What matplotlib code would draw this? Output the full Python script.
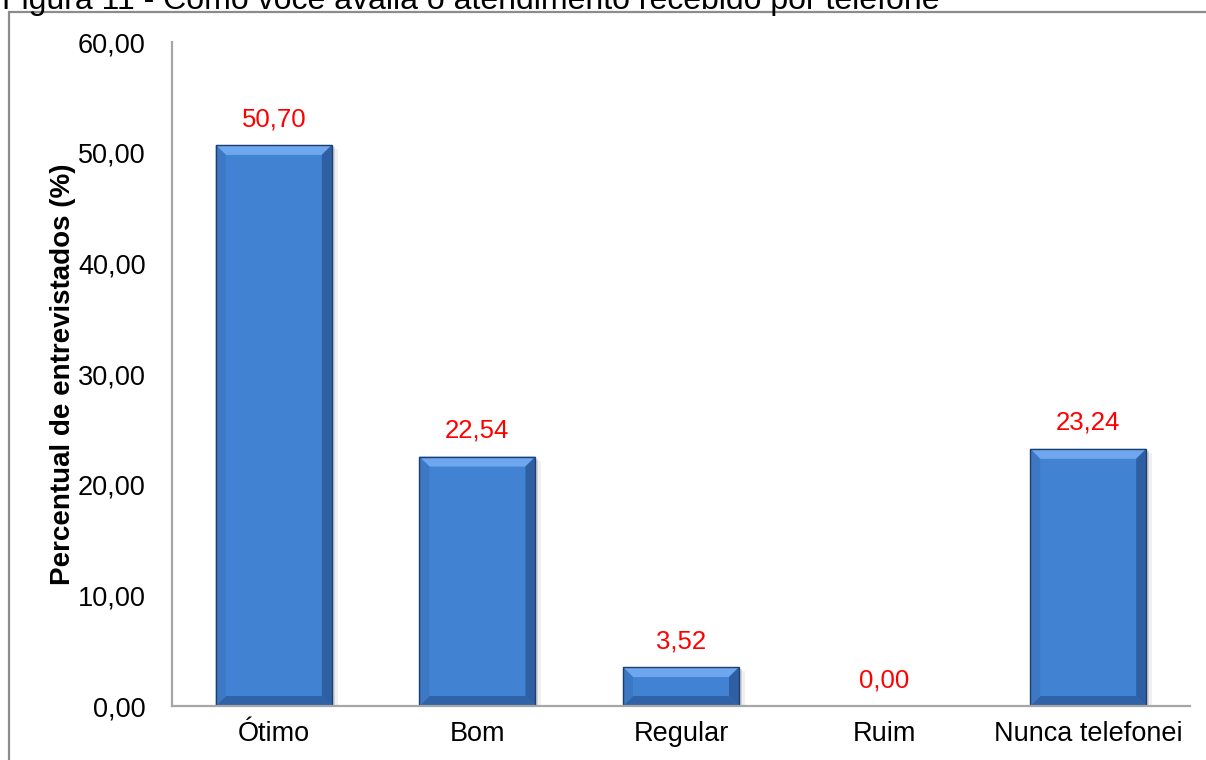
import matplotlib
matplotlib.use("Agg")
import matplotlib.pyplot as plt
from matplotlib.patches import Polygon, Rectangle
from matplotlib.ticker import FuncFormatter

plt.rcParams['font.family'] = ['Liberation Sans', 'DejaVu Sans']

categories = ["Ótimo", "Bom", "Regular", "Ruim", "Nunca telefonei"]
values = [50.70, 22.54, 3.52, 0.00, 23.24]
yticks = [0, 10, 20, 30, 40, 50, 60]
title = "Figura 11 - Como você avalia o atendimento recebido por telefone"
ylabel = "Percentual de entrevistados (%)"

W, H = 1206, 760
fig = plt.figure(figsize=(W / 100, H / 100), dpi=100)
ax = fig.add_axes([172 / W, 54 / H, 1018 / W, 664 / H])

x = list(range(len(categories)))
bars = ax.bar(x, values, width=0.57, color="#4282D2", zorder=2)

ax.set_xlim(-0.5, len(categories) - 0.5)
ax.set_ylim(0, 60)
ax.set_yticks(yticks)
ax.yaxis.set_major_formatter(FuncFormatter(lambda v, p: f"{v:.2f}".replace(".", ",")))
ax.set_xticks(x)
ax.set_xticklabels(categories)
ax.tick_params(axis="y", length=0, pad=19, labelsize=19.5)
ax.tick_params(axis="x", length=0, pad=11, labelsize=19.5)
for s in ("top", "right"):
    ax.spines[s].set_visible(False)
for s in ("left", "bottom"):
    ax.spines[s].set_color("#A6A6A6")
    ax.spines[s].set_linewidth(1.6)
ax.set_ylabel(ylabel, fontsize=20, fontweight="bold", labelpad=1)

# bevelled look for each bar, derived from the bar geometry
px_x = 1018 / 5.0  # pixels per category unit
px_y = 664 / 60.0
bx = 10 / px_x
by = 10 / px_y
for rect, v in zip(bars, values):
    if v <= 0:
        continue
    x0, y0 = rect.get_x(), rect.get_y()
    w, h = rect.get_width(), rect.get_height()
    x1, y1 = x0 + w, y0 + h
    byy = min(by, h / 2)
    # soft shadow
    ax.add_patch(Rectangle((x0 + 3 / px_x, y0), w, h - 2 / px_y, color="#000000",
                           alpha=0.12, zorder=1.5, lw=0))
    ax.add_patch(Rectangle((x0 + 6 / px_x, y0), w, h - 4 / px_y, color="#000000",
                           alpha=0.06, zorder=1.4, lw=0))
    faces = [
        ([(x0, y1), (x1, y1), (x1 - bx, y1 - byy), (x0 + bx, y1 - byy)], "#6EA7EE"),
        ([(x0, y0), (x1, y0), (x1 - bx, y0 + byy), (x0 + bx, y0 + byy)], "#2F62A6"),
        ([(x0, y0), (x0, y1), (x0 + bx, y1 - byy), (x0 + bx, y0 + byy)], "#3C78C4"),
        ([(x1, y0), (x1, y1), (x1 - bx, y1 - byy), (x1 - bx, y0 + byy)], "#2D5FA2"),
    ]
    for pts, c in faces:
        ax.add_patch(Polygon(pts, closed=True, color=c, lw=0, zorder=2.1))
    ax.add_patch(Rectangle((x0, y0), w, h, fill=False, ec="#1E3E6E", lw=1.0, zorder=2.2))

for xi, v in zip(x, values):
    ax.annotate(f"{v:.2f}".replace(".", ","), (xi, v), xytext=(0, 10),
                textcoords="offset points", ha="center", va="bottom",
                color="#FF0000", fontsize=18.5)

# outer frame and heading
fig.patches.append(Rectangle((9 / W, -0.05), 1.2, (H - 12) / H + 0.05,
                             transform=fig.transFigure, fill=False,
                             ec="#8C8C8C", lw=1.6))
fig.text(2 / W, (H - 9) / H, title, ha="left", va="baseline", fontsize=23, color="#000000")

fig.savefig("out.png", dpi=100)
